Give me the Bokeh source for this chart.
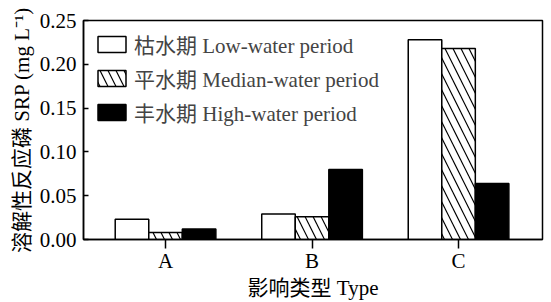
from bokeh.plotting import figure
from bokeh.models import Range1d, FixedTicker, Legend, LegendItem, ColumnDataSource
from bokeh.transform import dodge
from bokeh.embed import file_html
from bokeh.resources import INLINE

categories = ["A", "B", "C"]
low_water = [0.023, 0.029, 0.228]
median_water = [0.008, 0.026, 0.218]
high_water = [0.012, 0.080, 0.064]
series_labels = ["枯水期 Low-water period", "平水期 Median-water period", "丰水期 High-water period"]
y_ticks = [0.00, 0.05, 0.10, 0.15, 0.20, 0.25]
x_title = "影响类型 Type"
y_title = "溶解性反应磷 SRP (mg L⁻¹)"

FONT = "'Liberation Serif', 'Noto Sans CJK SC'"

src = ColumnDataSource(dict(x=list(range(len(categories))), low=low_water,
                            med=median_water, high=high_water))

p = figure(width=551, height=302, output_backend="svg", toolbar_location=None,
           x_range=Range1d(-0.56, 2.573), y_range=Range1d(0, 0.25),
           min_border_left=83, min_border_right=9, min_border_top=20, min_border_bottom=63)
p.grid.visible = False
p.background_fill_color = "white"
p.outline_line_color = "black"
p.outline_line_width = 1.5

w = 0.229
r1 = p.vbar(x=dodge("x", -w, range=p.x_range), top="low", width=w, source=src,
            fill_color="white", line_color="black", line_width=1.5)
r2 = p.vbar(x=dodge("x", 0, range=p.x_range), top="med", width=w, source=src,
            fill_color="white", line_color="black", line_width=1.5,
            hatch_pattern="\\", hatch_color="black", hatch_scale=16, hatch_weight=1.2)
r3 = p.vbar(x=dodge("x", w, range=p.x_range), top="high", width=w, source=src,
            fill_color="black", line_color="black", line_width=1.5)

legend = Legend(items=[LegendItem(label=series_labels[0], renderers=[r1]),
                       LegendItem(label=series_labels[1], renderers=[r2]),
                       LegendItem(label=series_labels[2], renderers=[r3])],
                location=(11, 112), margin=0, padding=0, spacing=4,
                glyph_width=35, glyph_height=20, label_height=20, label_standoff=5,
                label_text_font=FONT, label_text_font_size="21px",
                label_text_baseline="middle",
                border_line_alpha=0, background_fill_alpha=0)
p.add_layout(legend)

xa = p.xaxis[0]
xa.ticker = FixedTicker(ticks=list(range(len(categories))))
xa.major_label_overrides = {i: c for i, c in enumerate(categories)}
xa.minor_tick_line_color = None
xa.major_tick_in = 0
xa.major_tick_out = 9
xa.axis_line_width = 1.5
xa.major_tick_line_width = 1.5
xa.major_label_text_font = FONT
xa.major_label_text_font_size = "21px"
xa.major_label_text_color = "black"
xa.major_label_standoff = 0
xa.axis_label = x_title
xa.axis_label_text_font = FONT
xa.axis_label_text_font_size = "21px"
xa.axis_label_text_font_style = "normal"
xa.axis_label_text_color = "black"
xa.axis_label_standoff = 0

ya = p.yaxis[0]
ya.ticker = FixedTicker(ticks=y_ticks)
ya.major_label_overrides = {t: f"{t:.2f}" for t in y_ticks}
ya.minor_tick_line_color = None
ya.major_tick_in = 5
ya.major_tick_out = 0
ya.axis_line_width = 1.5
ya.major_tick_line_width = 1.5
ya.major_label_text_font = FONT
ya.major_label_text_font_size = "21px"
ya.major_label_text_color = "black"
ya.major_label_standoff = 7
ya.axis_label = y_title
ya.axis_label_text_font = FONT
ya.axis_label_text_font_size = "21px"
ya.axis_label_text_font_style = "normal"
ya.axis_label_text_color = "black"
ya.axis_label_standoff = 3

open("out.html", "w").write(file_html(p, INLINE))
